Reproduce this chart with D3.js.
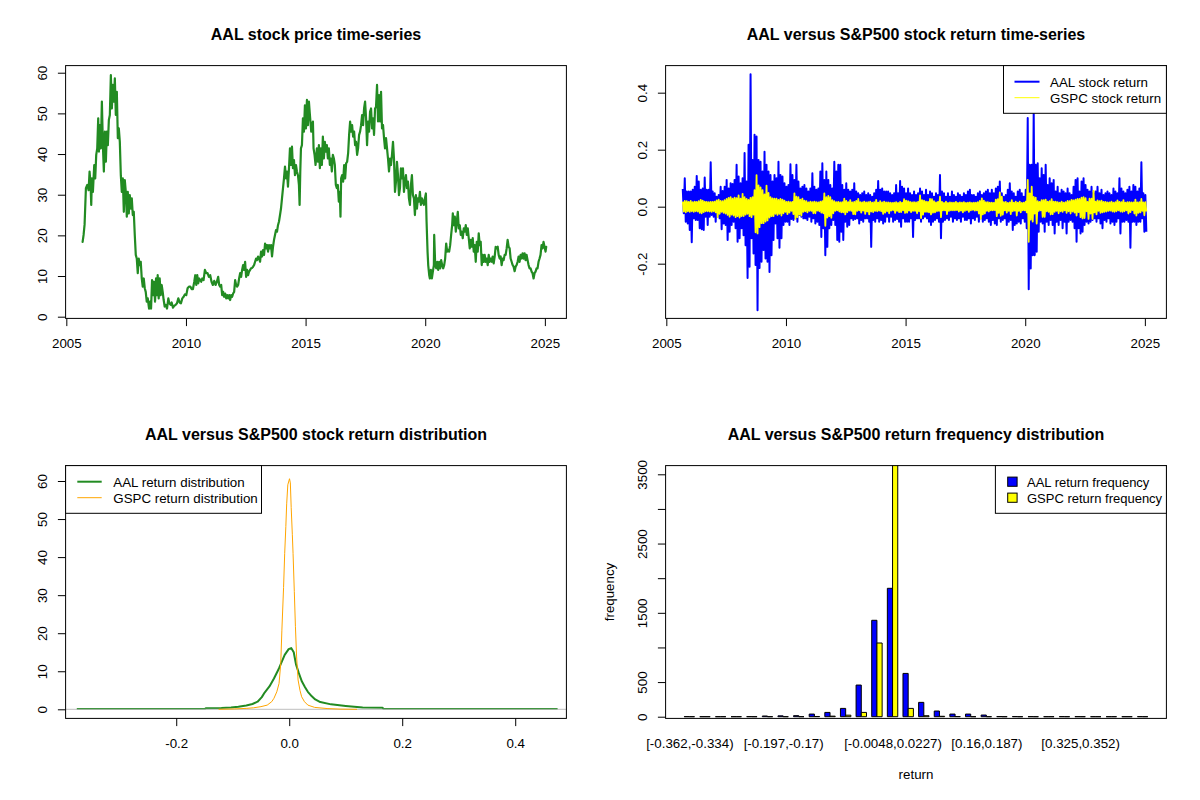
<!DOCTYPE html>
<html>
<head>
<meta charset="utf-8">
<script src="https://cdn.jsdelivr.net/npm/d3@7"></script>
<style>
  body { margin: 0; background: #fff; }
  svg { display: block; }
</style>
</head>
<body>
<script>
// ---- data ----

// AAL closing price: [decimal year, price]
const aalPrice = [
  [2005.681,18.4],[2005.722,20.1],[2005.764,22.7],[2005.819,31.6],[2005.875,32.4],[2005.931,31.1],[2005.972,35.7],
  [2006.014,32.4],[2006.042,27.5],[2006.069,34.0],[2006.111,30.7],[2006.167,37.3],[2006.208,34.0],[2006.250,39.8],
  [2006.292,41.4],[2006.333,48.8],[2006.361,40.6],[2006.403,47.1],[2006.444,41.4],[2006.486,52.9],[2006.528,42.2],
  [2006.569,35.7],[2006.611,45.5],[2006.653,38.1],[2006.694,45.5],[2006.736,42.2],[2006.778,48.4],[2006.819,49.6],
  [2006.861,59.4],[2006.903,51.2],[2006.944,57.0],[2006.986,52.9],[2007.028,58.6],[2007.069,49.6],[2007.111,55.3],
  [2007.153,43.9],[2007.194,46.3],[2007.236,43.0],[2007.278,34.8],[2007.319,30.7],[2007.361,34.0],[2007.403,25.8],
  [2007.444,33.6],[2007.486,30.7],[2007.528,24.6],[2007.569,30.7],[2007.611,25.4],[2007.653,29.9],[2007.694,26.6],
  [2007.736,29.1],[2007.778,25.0],[2007.819,25.8],[2007.861,20.1],[2007.903,15.2],[2007.944,14.3],[2007.986,10.7],
  [2008.028,14.3],[2008.069,12.7],[2008.111,13.5],[2008.153,9.4],[2008.194,7.4],[2008.236,9.4],[2008.278,7.0],
  [2008.319,6.1],[2008.361,3.7],[2008.403,4.5],[2008.458,2.0],[2008.500,3.7],[2008.542,2.0],[2008.583,9.0],
  [2008.625,5.3],[2008.667,8.6],[2008.708,3.7],[2008.750,9.4],[2008.792,5.3],[2008.819,10.2],[2008.861,4.5],
  [2008.903,9.4],[2008.944,5.3],[2008.986,7.8],[2009.028,6.1],[2009.069,4.1],[2009.111,2.5],[2009.153,2.9],
  [2009.208,2.0],[2009.264,4.5],[2009.306,3.3],[2009.361,2.9],[2009.403,3.5],[2009.458,2.2],[2009.514,2.7],
  [2009.569,2.9],[2009.625,3.3],[2009.681,4.5],[2009.736,3.5],[2009.792,3.3],[2009.847,4.5],[2009.903,4.9],
  [2009.958,5.5],[2010.014,5.3],[2010.069,7.0],[2010.125,7.4],[2010.181,7.4],[2010.236,6.8],[2010.292,6.8],
  [2010.347,8.6],[2010.389,10.2],[2010.431,7.8],[2010.472,10.2],[2010.514,8.2],[2010.556,9.4],[2010.597,9.0],
  [2010.639,8.6],[2010.681,9.4],[2010.736,9.0],[2010.792,11.5],[2010.847,10.7],[2010.903,10.7],[2010.958,9.8],
  [2011.014,10.2],[2011.069,8.6],[2011.125,7.8],[2011.181,8.8],[2011.236,7.8],[2011.292,8.6],[2011.347,9.8],
  [2011.389,7.8],[2011.431,7.4],[2011.472,7.8],[2011.514,5.3],[2011.556,6.1],[2011.597,4.9],[2011.639,5.7],
  [2011.681,4.5],[2011.722,5.3],[2011.764,4.5],[2011.806,5.3],[2011.847,4.1],[2011.889,5.3],[2011.931,4.9],
  [2011.972,5.7],[2012.014,6.1],[2012.056,9.0],[2012.097,7.8],[2012.139,7.4],[2012.181,7.8],[2012.222,9.4],
  [2012.264,10.7],[2012.306,9.8],[2012.347,11.5],[2012.389,12.7],[2012.431,11.5],[2012.472,13.5],[2012.514,9.8],
  [2012.556,11.5],[2012.597,10.2],[2012.639,11.1],[2012.681,11.5],[2012.722,11.9],[2012.764,12.0],[2012.806,12.3],
  [2012.847,12.7],[2012.889,13.5],[2012.931,14.3],[2012.972,13.9],[2013.014,14.8],[2013.056,14.3],[2013.097,13.5],
  [2013.139,16.0],[2013.181,14.8],[2013.222,16.4],[2013.264,15.2],[2013.306,18.0],[2013.347,16.8],[2013.389,17.6],
  [2013.431,16.0],[2013.472,17.6],[2013.514,16.8],[2013.556,17.6],[2013.597,14.8],[2013.639,17.2],[2013.681,18.9],
  [2013.722,20.1],[2013.764,21.3],[2013.806,20.9],[2013.847,22.5],[2013.889,23.4],[2013.931,25.0],[2013.972,26.6],
  [2014.014,29.1],[2014.056,31.6],[2014.097,34.0],[2014.139,36.9],[2014.181,34.0],[2014.222,35.7],[2014.264,32.0],
  [2014.306,36.5],[2014.347,41.4],[2014.389,37.3],[2014.431,41.8],[2014.472,36.5],[2014.514,38.5],[2014.556,34.8],
  [2014.597,37.3],[2014.639,35.7],[2014.681,34.8],[2014.722,32.4],[2014.750,27.5],[2014.778,35.7],[2014.806,41.4],
  [2014.847,42.2],[2014.889,48.8],[2014.931,45.5],[2014.972,52.0],[2015.014,46.3],[2015.056,53.3],[2015.097,47.1],
  [2015.139,52.9],[2015.181,49.6],[2015.236,45.5],[2015.306,48.0],[2015.333,41.4],[2015.375,39.8],[2015.417,37.3],
  [2015.472,41.4],[2015.514,38.1],[2015.556,42.2],[2015.597,36.5],[2015.639,41.4],[2015.681,37.3],[2015.722,44.3],
  [2015.764,38.9],[2015.806,43.0],[2015.847,40.6],[2015.889,42.2],[2015.931,38.9],[2015.972,41.4],[2016.014,37.3],
  [2016.056,38.9],[2016.097,35.7],[2016.139,39.8],[2016.181,38.9],[2016.222,37.3],[2016.264,32.4],[2016.306,31.6],
  [2016.347,32.4],[2016.389,28.3],[2016.431,30.7],[2016.458,24.6],[2016.486,34.0],[2016.528,34.8],[2016.569,33.2],
  [2016.611,37.3],[2016.653,34.0],[2016.694,37.7],[2016.736,38.1],[2016.778,40.2],[2016.819,44.7],[2016.861,48.0],
  [2016.903,45.5],[2016.944,47.1],[2016.986,44.3],[2017.028,45.5],[2017.069,42.2],[2017.111,43.0],[2017.153,39.8],
  [2017.194,41.4],[2017.236,44.7],[2017.278,45.5],[2017.319,47.1],[2017.361,49.6],[2017.403,47.1],[2017.444,51.2],
  [2017.486,52.9],[2017.528,48.8],[2017.569,42.2],[2017.611,48.0],[2017.653,45.5],[2017.694,50.4],[2017.736,51.2],
  [2017.778,46.3],[2017.819,48.8],[2017.861,44.7],[2017.903,51.2],[2017.944,51.6],[2017.986,57.0],[2018.028,48.0],
  [2018.069,54.5],[2018.111,48.0],[2018.153,55.3],[2018.194,46.3],[2018.236,47.1],[2018.278,43.9],[2018.319,41.4],
  [2018.361,43.9],[2018.403,41.4],[2018.444,38.9],[2018.486,35.7],[2018.528,38.9],[2018.569,37.3],[2018.611,39.8],
  [2018.653,43.0],[2018.694,38.9],[2018.736,30.7],[2018.778,33.2],[2018.819,38.1],[2018.861,34.8],[2018.903,29.9],
  [2018.944,31.6],[2018.986,36.5],[2019.028,34.0],[2019.069,36.5],[2019.111,30.7],[2019.153,33.2],[2019.194,34.8],
  [2019.236,31.6],[2019.278,33.2],[2019.319,29.1],[2019.361,27.5],[2019.403,32.4],[2019.444,34.8],[2019.486,29.9],
  [2019.528,29.1],[2019.569,25.0],[2019.611,29.9],[2019.653,26.6],[2019.694,29.1],[2019.736,28.3],[2019.778,30.7],
  [2019.819,27.5],[2019.861,29.1],[2019.903,28.3],[2019.944,27.5],[2019.986,29.1],[2020.028,30.3],[2020.056,23.4],
  [2020.097,16.0],[2020.125,12.7],[2020.167,10.2],[2020.194,9.4],[2020.236,11.5],[2020.278,9.4],[2020.319,11.1],
  [2020.361,12.7],[2020.375,20.1],[2020.417,12.7],[2020.458,11.9],[2020.500,13.5],[2020.542,11.5],[2020.583,13.5],
  [2020.625,11.9],[2020.667,13.9],[2020.708,12.7],[2020.750,11.9],[2020.792,12.7],[2020.833,14.3],[2020.875,18.0],
  [2020.917,16.0],[2020.958,16.4],[2021.000,16.0],[2021.042,17.6],[2021.083,20.1],[2021.125,22.5],[2021.153,25.4],
  [2021.194,22.5],[2021.236,24.6],[2021.278,20.9],[2021.319,23.4],[2021.361,25.8],[2021.403,21.7],[2021.444,22.5],
  [2021.486,20.1],[2021.528,20.9],[2021.569,19.3],[2021.611,21.7],[2021.653,20.9],[2021.694,22.5],[2021.736,20.1],
  [2021.778,21.7],[2021.819,19.3],[2021.861,16.8],[2021.903,18.9],[2021.944,17.2],[2021.986,19.3],[2022.028,16.0],
  [2022.069,17.6],[2022.111,13.5],[2022.153,18.4],[2022.194,16.0],[2022.236,20.5],[2022.278,17.6],[2022.319,18.4],
  [2022.361,12.7],[2022.403,15.2],[2022.444,13.5],[2022.486,15.2],[2022.528,13.5],[2022.569,14.3],[2022.611,12.7],
  [2022.653,15.2],[2022.694,13.5],[2022.736,14.3],[2022.778,13.5],[2022.819,14.8],[2022.861,13.1],[2022.903,14.8],
  [2022.944,17.2],[2022.986,16.8],[2023.028,17.2],[2023.069,15.2],[2023.111,14.3],[2023.153,14.8],[2023.194,12.7],
  [2023.236,14.3],[2023.278,13.9],[2023.319,15.2],[2023.361,15.2],[2023.403,16.8],[2023.444,18.9],[2023.486,17.2],
  [2023.528,16.8],[2023.569,14.3],[2023.611,13.5],[2023.653,12.7],[2023.694,12.3],[2023.736,11.2],[2023.778,12.3],
  [2023.819,12.7],[2023.861,13.5],[2023.903,14.8],[2023.944,13.5],[2023.986,15.2],[2024.028,14.3],[2024.069,15.6],
  [2024.111,14.3],[2024.153,15.6],[2024.194,13.9],[2024.236,15.2],[2024.278,13.9],[2024.319,12.7],[2024.361,11.9],
  [2024.403,11.9],[2024.444,11.1],[2024.486,10.7],[2024.528,9.4],[2024.569,10.7],[2024.611,11.1],[2024.653,11.9],
  [2024.694,11.9],[2024.736,13.5],[2024.778,14.3],[2024.819,15.2],[2024.861,17.6],[2024.903,16.8],[2024.944,18.4],
  [2024.986,17.2],[2025.028,16.0],[2025.056,17.2]
];

// daily returns summarised per month (Sep 2005 .. Jan 2025): highest and lowest value seen
const aalRetHigh = [
  0.062,0.100,0.053,0.053,
  0.053,0.059,0.070,0.108,0.088,0.059,0.064,0.102,0.059,0.059,0.156,0.053,
  0.047,0.035,0.041,0.070,0.055,0.070,0.094,0.064,0.082,0.080,0.094,0.147,
  0.106,0.082,0.100,0.188,0.088,0.217,0.465,0.164,0.252,0.246,0.164,0.158,
  0.123,0.193,0.147,0.123,0.111,0.088,0.111,0.100,0.158,0.111,0.106,0.082,
  0.070,0.076,0.149,0.111,0.094,0.147,0.088,0.064,0.070,0.076,0.064,0.053,
  0.064,0.117,0.070,0.059,0.064,0.123,0.152,0.094,0.123,0.094,0.076,0.064,
  0.158,0.123,0.147,0.147,0.076,0.059,0.082,0.059,0.053,0.059,0.082,0.053,
  0.047,0.041,0.047,0.053,0.041,0.047,0.041,0.035,0.047,0.059,0.090,0.059,
  0.064,0.053,0.053,0.053,0.047,0.041,0.047,0.076,0.047,0.090,0.070,0.064,
  0.047,0.064,0.047,0.041,0.053,0.041,0.047,0.064,0.053,0.041,0.059,0.041,
  0.053,0.047,0.035,0.047,0.041,0.111,0.053,0.047,0.035,0.047,0.035,0.053,
  0.041,0.035,0.047,0.041,0.035,0.047,0.041,0.053,0.059,0.041,0.041,0.035,
  0.047,0.053,0.041,0.047,0.053,0.059,0.047,0.059,0.047,0.064,0.070,0.088,
  0.047,0.035,0.041,0.059,0.082,0.053,0.047,0.035,0.053,0.059,0.047,0.035,
  0.059,0.311,0.147,0.147,0.340,0.147,0.152,0.100,0.135,0.111,0.147,0.076,
  0.100,0.082,0.094,0.053,0.070,0.047,0.059,0.053,0.047,0.064,0.047,0.041,
  0.070,0.094,0.100,0.053,0.088,0.100,0.076,0.059,0.053,0.070,0.047,0.053,
  0.070,0.047,0.059,0.041,0.047,0.053,0.047,0.041,0.064,0.053,0.047,0.100,
  0.064,0.053,0.047,0.059,0.070,0.053,0.076,0.070,0.053,0.064,0.156,0.047,
  0.041
];
const aalRetLow = [
  -0.023,-0.053,-0.059,-0.082,
  -0.125,-0.041,-0.047,-0.047,-0.076,-0.079,-0.082,-0.035,-0.064,-0.035,-0.029,-0.035,
  -0.053,-0.035,-0.041,-0.079,-0.059,-0.064,-0.117,-0.088,-0.064,-0.053,-0.076,-0.123,
  -0.111,-0.076,-0.100,-0.135,-0.250,-0.211,-0.111,-0.164,-0.205,-0.363,-0.215,-0.193,
  -0.152,-0.182,-0.193,-0.229,-0.170,-0.117,-0.059,-0.111,-0.144,-0.111,-0.064,-0.053,
  -0.053,-0.064,-0.043,-0.047,-0.041,-0.053,-0.029,-0.035,-0.041,-0.041,-0.047,-0.035,
  -0.053,-0.041,-0.059,-0.053,-0.064,-0.106,-0.076,-0.170,-0.141,-0.076,-0.064,-0.047,
  -0.064,-0.117,-0.123,-0.088,-0.117,-0.053,-0.070,-0.064,-0.041,-0.047,-0.043,-0.041,
  -0.059,-0.047,-0.053,-0.041,-0.041,-0.053,-0.141,-0.047,-0.053,-0.041,-0.053,-0.047,
  -0.059,-0.053,-0.035,-0.053,-0.035,-0.053,-0.047,-0.043,-0.053,-0.070,-0.041,-0.053,
  -0.053,-0.053,-0.041,-0.106,-0.047,-0.041,-0.041,-0.053,-0.041,-0.035,-0.041,-0.053,
  -0.064,-0.053,-0.047,-0.041,-0.053,-0.111,-0.053,-0.047,-0.041,-0.047,-0.035,-0.053,
  -0.041,-0.047,-0.041,-0.053,-0.035,-0.047,-0.047,-0.041,-0.059,-0.041,-0.047,-0.035,
  -0.053,-0.041,-0.053,-0.047,-0.041,-0.053,-0.064,-0.047,-0.059,-0.064,-0.041,-0.053,
  -0.047,-0.041,-0.064,-0.053,-0.047,-0.082,-0.064,-0.059,-0.053,-0.059,-0.041,-0.053,
  -0.076,-0.290,-0.217,-0.170,-0.170,-0.158,-0.088,-0.053,-0.059,-0.088,-0.053,-0.064,
  -0.047,-0.064,-0.094,-0.053,-0.064,-0.047,-0.076,-0.053,-0.094,-0.053,-0.047,-0.053,
  -0.076,-0.123,-0.076,-0.094,-0.088,-0.064,-0.053,-0.059,-0.053,-0.047,-0.041,-0.053,
  -0.041,-0.059,-0.076,-0.047,-0.053,-0.041,-0.059,-0.053,-0.064,-0.053,-0.041,-0.094,
  -0.053,-0.053,-0.047,-0.053,-0.144,-0.053,-0.053,-0.064,-0.053,-0.053,-0.041,-0.088,
  -0.088
];
const gspcRetHigh = [
  0.018,0.020,0.019,0.017,
  0.020,0.016,0.018,0.017,0.019,0.024,0.021,0.018,0.017,0.016,0.017,0.017,
  0.018,0.022,0.025,0.020,0.019,0.023,0.027,0.031,0.033,0.028,0.032,0.030,
  0.040,0.028,0.045,0.033,0.027,0.024,0.031,0.033,0.058,0.111,0.075,0.068,
  0.058,0.043,0.074,0.048,0.033,0.029,0.028,0.028,0.024,0.027,0.025,0.021,
  0.017,0.018,0.016,0.017,0.047,0.035,0.033,0.025,0.028,0.021,0.019,0.015,
  0.018,0.016,0.018,0.016,0.015,0.018,0.019,0.047,0.033,0.038,0.033,0.023,
  0.019,0.016,0.017,0.015,0.016,0.028,0.020,0.016,0.023,0.015,0.017,0.020,
  0.027,0.016,0.015,0.018,0.015,0.016,0.018,0.014,0.016,0.024,0.014,0.019,
  0.015,0.018,0.015,0.015,0.014,0.013,0.014,0.016,0.013,0.017,0.014,0.026,
  0.021,0.019,0.017,0.015,0.016,0.015,0.017,0.040,0.023,0.021,0.018,0.017,
  0.027,0.026,0.019,0.015,0.017,0.035,0.017,0.013,0.018,0.013,0.015,0.014,
  0.014,0.017,0.013,0.015,0.014,0.016,0.013,0.014,0.015,0.013,0.014,0.014,
  0.016,0.020,0.029,0.021,0.016,0.016,0.014,0.014,0.013,0.025,0.026,0.050,
  0.035,0.016,0.017,0.013,0.015,0.023,0.014,0.018,0.014,0.018,0.013,0.014,
  0.018,0.094,0.047,0.070,0.034,0.032,0.019,0.017,0.023,0.023,0.025,0.018,
  0.019,0.026,0.018,0.018,0.016,0.014,0.018,0.014,0.016,0.020,0.019,0.024,
  0.022,0.025,0.027,0.027,0.032,0.033,0.030,0.017,0.028,0.028,0.055,0.018,
  0.022,0.019,0.021,0.017,0.017,0.015,0.015,0.018,0.014,0.016,0.022,0.017,
  0.016,0.023,0.014,0.016,0.016,0.015,0.015,0.025,0.015,0.016,0.027,0.015,
  0.016
];
const gspcRetLow = [
  -0.017,-0.020,-0.016,-0.018,
  -0.016,-0.018,-0.016,-0.017,-0.022,-0.023,-0.019,-0.016,-0.016,-0.017,-0.018,-0.016,
  -0.020,-0.037,-0.025,-0.018,-0.022,-0.024,-0.029,-0.035,-0.028,-0.031,-0.037,-0.033,
  -0.038,-0.033,-0.033,-0.028,-0.025,-0.033,-0.037,-0.028,-0.090,-0.094,-0.072,-0.058,
  -0.058,-0.052,-0.048,-0.038,-0.033,-0.033,-0.025,-0.029,-0.025,-0.031,-0.023,-0.018,
  -0.026,-0.021,-0.015,-0.026,-0.042,-0.037,-0.028,-0.031,-0.018,-0.016,-0.020,-0.015,
  -0.015,-0.023,-0.023,-0.014,-0.016,-0.021,-0.023,-0.067,-0.038,-0.033,-0.039,-0.023,
  -0.015,-0.013,-0.017,-0.020,-0.020,-0.027,-0.019,-0.014,-0.015,-0.026,-0.027,-0.015,
  -0.013,-0.021,-0.014,-0.025,-0.017,-0.027,-0.017,-0.019,-0.015,-0.016,-0.014,-0.016,
  -0.025,-0.021,-0.016,-0.023,-0.014,-0.012,-0.022,-0.015,-0.019,-0.019,-0.013,-0.022,
  -0.021,-0.014,-0.019,-0.015,-0.015,-0.023,-0.016,-0.040,-0.028,-0.018,-0.018,-0.020,
  -0.027,-0.021,-0.020,-0.016,-0.015,-0.037,-0.013,-0.013,-0.026,-0.015,-0.013,-0.013,
  -0.013,-0.012,-0.017,-0.014,-0.020,-0.015,-0.012,-0.018,-0.013,-0.011,-0.014,-0.013,
  -0.024,-0.042,-0.027,-0.024,-0.015,-0.017,-0.013,-0.013,-0.012,-0.033,-0.022,-0.032,
  -0.028,-0.013,-0.021,-0.015,-0.026,-0.016,-0.014,-0.031,-0.015,-0.020,-0.013,-0.013,
  -0.020,-0.123,-0.045,-0.052,-0.024,-0.059,-0.015,-0.013,-0.036,-0.036,-0.016,-0.018,
  -0.027,-0.026,-0.018,-0.015,-0.023,-0.016,-0.018,-0.013,-0.022,-0.016,-0.024,-0.017,
  -0.021,-0.031,-0.019,-0.037,-0.041,-0.040,-0.016,-0.043,-0.024,-0.043,-0.020,-0.027,
  -0.015,-0.022,-0.020,-0.018,-0.017,-0.015,-0.014,-0.017,-0.018,-0.016,-0.013,-0.017,
  -0.018,-0.016,-0.013,-0.024,-0.019,-0.012,-0.024,-0.031,-0.022,-0.020,-0.015,-0.030,
  -0.017
];
const firstMonth = 2005 + 8 / 12;   // Sep 2005

// kernel density estimates: [return, density]
const aalDensity = [
  [-0.376,0.1],[-0.30,0.1],[-0.20,0.1],[-0.149,0.1],[-0.147,0.3],[-0.12,0.35],[-0.103,0.5],[-0.09,0.7],
  [-0.076,1.0],[-0.065,1.4],[-0.056,2.0],[-0.0485,3.2],[-0.0435,4.4],[-0.035,6.0],[-0.027,8.1],[-0.018,10.8],
  [-0.008,14.3],[-0.001,15.8],[0.0035,16.1],[0.008,15.0],[0.012,11.8],[0.017,9.5],[0.0225,7.3],[0.028,5.8],
  [0.033,4.6],[0.040,3.4],[0.046,2.6],[0.055,1.9],[0.074,1.3],[0.10,0.9],[0.13,0.5],[0.165,0.4],
  [0.167,0.1],[0.25,0.1],[0.35,0.1],[0.475,0.1]
];
const gspcDensity = [
  [-0.125,0.0],[-0.097,0.1],[-0.075,0.25],[-0.063,0.4],[-0.05,0.7],[-0.039,1.1],[-0.031,2.0],[-0.027,2.9],
  [-0.022,4.6],[-0.018,6.8],[-0.015,12.0],[-0.013,20.8],[-0.010,32.0],[-0.008,41.0],[-0.006,48.0],[-0.0045,54.0],
  [-0.0025,59.0],[0.0005,60.6],[0.002,59.5],[0.0035,53.0],[0.0055,46.0],[0.0068,41.0],[0.009,31.0],[0.011,21.7],
  [0.013,14.0],[0.0157,7.7],[0.019,5.0],[0.022,3.3],[0.027,2.0],[0.033,1.1],[0.045,0.5],[0.067,0.2],
  [0.09,0.05],[0.12,0.0]
];

// histogram bins and counts
const binLabels = [
  "[-0.362,-0.334)","[-0.334,-0.307)","[-0.307,-0.28)","[-0.28,-0.252)","[-0.252,-0.225)",
  "[-0.225,-0.197)","[-0.197,-0.17)","[-0.17,-0.142)","[-0.142,-0.115)","[-0.115,-0.0872)",
  "[-0.0872,-0.0597)","[-0.0597,-0.0323)","[-0.0323,-0.0048)","[-0.0048,0.0227)","[0.0227,0.0501)",
  "[0.0501,0.0776)","[0.0776,0.105)","[0.105,0.133)","[0.133,0.16)","[0.16,0.187)",
  "[0.187,0.215)","[0.215,0.242)","[0.242,0.27)","[0.27,0.297)","[0.297,0.325)",
  "[0.325,0.352)","[0.352,0.38)","[0.38,0.407)","[0.407,0.435)","[0.435,0.462]"
];
const shownBinLabels = [0, 6, 13, 19, 25];
const aalFreq  = [1,0,0,0,1,10,12,15,38,62,120,457,1392,1854,625,207,82,38,38,24,2,2,1,0,1,1,0,0,0,1];
const gspcFreq = [0,0,0,0,0,0,0,0,3,8,22,62,1064,3640,120,14,6,2,0,0,0,0,0,0,0,0,0,0,0,0];

const yearTicks = [2005, 2010, 2015, 2020, 2025];
const priceTicks = [0, 10, 20, 30, 40, 50, 60];
const retTicks = [-0.2, 0.0, 0.2, 0.4];
const densTicks = [0, 10, 20, 30, 40, 50, 60];
const freqTicks = [0, 500, 1000, 1500, 2000, 2500, 3000, 3500];
const freqTicksLabelled = [0, 500, 1500, 2500, 3500];

// ---- drawing ----
const FONT = '"Liberation Sans", Arial, Helvetica, sans-serif';
const FS = 13.33;
const W = 1200, H = 800;

const svg = d3.select('body').append('svg')
  .attr('width', W).attr('height', H)
  .attr('font-family', FONT);
svg.append('rect').attr('width', W).attr('height', H).attr('fill', '#fff');
const defs = svg.append('defs');

// R default margins at this size (px)
const mar = { left: 65.6, right: 33.6, top: 65.6, bottom: 81.6 };

function panel(ox, oy, title, id) {
  const g = svg.append('g').attr('transform', `translate(${ox},${oy})`);
  const p = { g, x0: mar.left, x1: 600 - mar.right, y0: mar.top, y1: 400 - mar.bottom };
  defs.append('clipPath').attr('id', id)
    .append('rect').attr('x', p.x0).attr('y', p.y0)
    .attr('width', p.x1 - p.x0).attr('height', p.y1 - p.y0);
  g.append('text')
    .attr('x', (p.x0 + p.x1) / 2).attr('y', 40)
    .attr('text-anchor', 'middle')
    .attr('font-weight', 'bold').attr('font-size', 16)
    .text(title);
  p.plot = g.append('g').attr('clip-path', `url(#${id})`);
  return p;
}

function box(p) {
  p.g.append('rect')
    .attr('x', p.x0).attr('y', p.y0)
    .attr('width', p.x1 - p.x0).attr('height', p.y1 - p.y0)
    .attr('fill', 'none').attr('stroke', '#000').attr('stroke-width', 1);
}

function xAxis(p, scale, ticks, fmt) {
  const a = p.g.append('g')
    .attr('transform', `translate(0,${p.y1})`)
    .call(d3.axisBottom(scale).tickValues(ticks).tickFormat(fmt)
      .tickSizeInner(7.7).tickSizeOuter(0).tickPadding(12.4));
  a.attr('font-size', FS).attr('font-family', FONT);
  a.select('.domain').remove();
  return a;
}

function yAxis(p, scale, ticks, fmt) {
  const a = p.g.append('g')
    .attr('transform', `translate(${p.x0},0)`)
    .call(d3.axisLeft(scale).tickValues(ticks).tickFormat(fmt)
      .tickSizeInner(7.7).tickSizeOuter(0));
  a.attr('font-size', FS).attr('font-family', FONT);
  a.select('.domain').remove();
  a.selectAll('text')
    .attr('transform', 'rotate(-90)')
    .attr('x', 0).attr('y', -19.1).attr('dy', null)
    .attr('text-anchor', 'middle');
  return a;
}

function legend(p, x0, right) {
  const lg = p.g.append('g');
  lg.append('rect')
    .attr('x', x0).attr('y', p.y0)
    .attr('width', (right || p.x1) - x0).attr('height', 47.7)
    .attr('fill', '#fff').attr('stroke', '#000').attr('stroke-width', 1);
  return lg;
}

function zigzag(hi, lo) {
  const pts = [];
  hi.forEach((h, i) => {
    const t = firstMonth + i / 12;
    pts.push([t + 0.25 / 12, h]);
    pts.push([t + 0.75 / 12, lo[i]]);
  });
  return pts;
}

// ---------- panel 1: price ----------
{
  const p = panel(0, 0, 'AAL stock price time-series', 'clipA');
  const x = d3.scaleLinear().domain([2004.97, 2025.90]).range([p.x0, p.x1]);
  const y = d3.scaleLinear().domain([-0.42, 61.75]).range([p.y1, p.y0]);
  const line = d3.line().x(d => x(d[0])).y(d => y(d[1]));
  p.plot.append('path').datum(aalPrice)
    .attr('d', line).attr('fill', 'none')
    .attr('stroke', '#228B22').attr('stroke-width', 2.2)
    .attr('stroke-linejoin', 'round').attr('stroke-linecap', 'round');
  xAxis(p, x, yearTicks, d3.format('d'));
  yAxis(p, y, priceTicks, d3.format('d'));
  box(p);
}

// ---------- panel 2: returns ----------
{
  const p = panel(600, 0, 'AAL versus S&P500 stock return time-series', 'clipB');
  const x = d3.scaleLinear().domain([2004.97, 2025.90]).range([p.x0, p.x1]);
  const y = d3.scaleLinear().domain([-0.392, 0.495]).range([p.y1, p.y0]);
  const line = d3.line().x(d => x(d[0])).y(d => y(d[1]));
  p.plot.append('path').datum(zigzag(aalRetHigh, aalRetLow))
    .attr('d', line).attr('fill', 'none')
    .attr('stroke', '#0000FF').attr('stroke-width', 2).attr('stroke-linejoin', 'round');
  p.plot.append('path').datum(zigzag(gspcRetHigh, gspcRetLow))
    .attr('d', line).attr('fill', 'none')
    .attr('stroke', '#FFFF00').attr('stroke-width', 1.8).attr('stroke-linejoin', 'round');
  xAxis(p, x, yearTicks, d3.format('d'));
  yAxis(p, y, retTicks, d => d.toFixed(1));
  box(p);

  const lg = legend(p, 403.5);
  const items = [
    { label: 'AAL stock return', color: '#0000FF', w: 2 },
    { label: 'GSPC stock return', color: '#FFFF00', w: 1 }
  ];
  items.forEach((it, i) => {
    const yy = 81.7 + i * 16;
    lg.append('line').attr('x1', 414.5).attr('x2', 439.5).attr('y1', yy).attr('y2', yy)
      .attr('stroke', it.color).attr('stroke-width', it.w);
    lg.append('text').attr('x', 450).attr('y', yy + 4.8)
      .attr('font-size', FS).text(it.label);
  });
}

// ---------- panel 3: density ----------
{
  const p = panel(0, 400, 'AAL versus S&P500 stock return distribution', 'clipC');
  const x = d3.scaleLinear().domain([-0.3958, 0.4906]).range([p.x0, p.x1]);
  const y = d3.scaleLinear().domain([-2.39, 64.05]).range([p.y1, p.y0]);
  const line = d3.line().x(d => x(d[0])).y(d => y(d[1]));
  p.plot.append('path').datum(aalDensity)
    .attr('d', line).attr('fill', 'none')
    .attr('stroke', '#228B22').attr('stroke-width', 2).attr('stroke-linejoin', 'round');
  p.plot.append('line')
    .attr('x1', p.x0).attr('x2', p.x1).attr('y1', y(0)).attr('y2', y(0))
    .attr('stroke', '#BEBEBE').attr('stroke-width', 1);
  p.plot.append('path').datum(gspcDensity)
    .attr('d', line).attr('fill', 'none')
    .attr('stroke', '#FFA500').attr('stroke-width', 1).attr('stroke-linejoin', 'round');
  xAxis(p, x, retTicks, d => d.toFixed(1));
  yAxis(p, y, densTicks, d3.format('d'));
  box(p);

  const lg = legend(p, p.x0, 261.5);
  const items = [
    { label: 'AAL return distribution', color: '#228B22', w: 2 },
    { label: 'GSPC return distribution', color: '#FFA500', w: 1 }
  ];
  items.forEach((it, i) => {
    const yy = 81.7 + i * 16;
    lg.append('line').attr('x1', 77.3).attr('x2', 101.7).attr('y1', yy).attr('y2', yy)
      .attr('stroke', it.color).attr('stroke-width', it.w);
    lg.append('text').attr('x', 113.3).attr('y', yy + 4.8)
      .attr('font-size', FS).text(it.label);
  });
}

// ---------- panel 4: frequency bars ----------
{
  const p = panel(600, 400, 'AAL versus S&P500 return frequency distribution', 'clipD');
  // barplot units: each bin = blue bar + yellow bar + 1 unit gap
  const x = d3.scaleLinear().domain([-2.56, 93.56]).range([p.x0, p.x1]);
  const y = d3.scaleLinear().domain([-24.5, 3625.6]).range([p.y1, p.y0]);
  const barPath = (u0, v) => {
    const xa = x(u0), xb = x(u0 + 1), yb = y(0), yt = y(v);
    return `M${xa},${yb}H${xb}V${yt}H${xa}Z`;
  };
  const bins = binLabels.map((lab, i) => ({ i, lab, aal: aalFreq[i], gspc: gspcFreq[i] }));
  p.plot.selectAll('path.aal').data(bins).join('path')
    .attr('class', 'aal')
    .attr('d', d => barPath(1 + 3 * d.i, d.aal))
    .attr('fill', '#0000FF').attr('stroke', '#000').attr('stroke-width', 1);
  p.plot.selectAll('path.gspc').data(bins).join('path')
    .attr('class', 'gspc')
    .attr('d', d => barPath(2 + 3 * d.i, d.gspc))
    .attr('fill', '#FFFF00').attr('stroke', '#000').attr('stroke-width', 1);

  const shown = shownBinLabels.map(i => 2 + 3 * i);
  const xa = p.g.append('g')
    .attr('transform', `translate(0,${p.y1})`)
    .call(d3.axisBottom(x).tickValues(shown)
      .tickFormat(u => binLabels[(u - 2) / 3]).tickSize(0).tickPadding(20.1));
  xa.attr('font-size', FS).attr('font-family', FONT);
  xa.select('.domain').remove();
  xa.selectAll('line').remove();

  yAxis(p, y, freqTicks, d => freqTicksLabelled.includes(d) ? String(d) : '');
  box(p);

  p.g.append('text')
    .attr('x', (p.x0 + p.x1) / 2).attr('y', 379)
    .attr('text-anchor', 'middle').attr('font-size', FS).text('return');
  p.g.append('text')
    .attr('transform', `translate(14.3,${(p.y0 + p.y1) / 2}) rotate(-90)`)
    .attr('text-anchor', 'middle').attr('font-size', FS).text('frequency');

  const lg = legend(p, 395.4);
  const items = [
    { label: 'AAL return frequency', color: '#0000FF' },
    { label: 'GSPC return frequency', color: '#FFFF00' }
  ];
  items.forEach((it, i) => {
    const yy = 81.7 + i * 16;
    lg.append('rect').attr('x', 407.7).attr('y', yy - 4.6).attr('width', 9.4).attr('height', 9.2)
      .attr('fill', it.color).attr('stroke', '#000').attr('stroke-width', 1);
    lg.append('text').attr('x', 427).attr('y', yy + 4.8)
      .attr('font-size', 13).text(it.label);
  });
}
</script>
</body>
</html>
